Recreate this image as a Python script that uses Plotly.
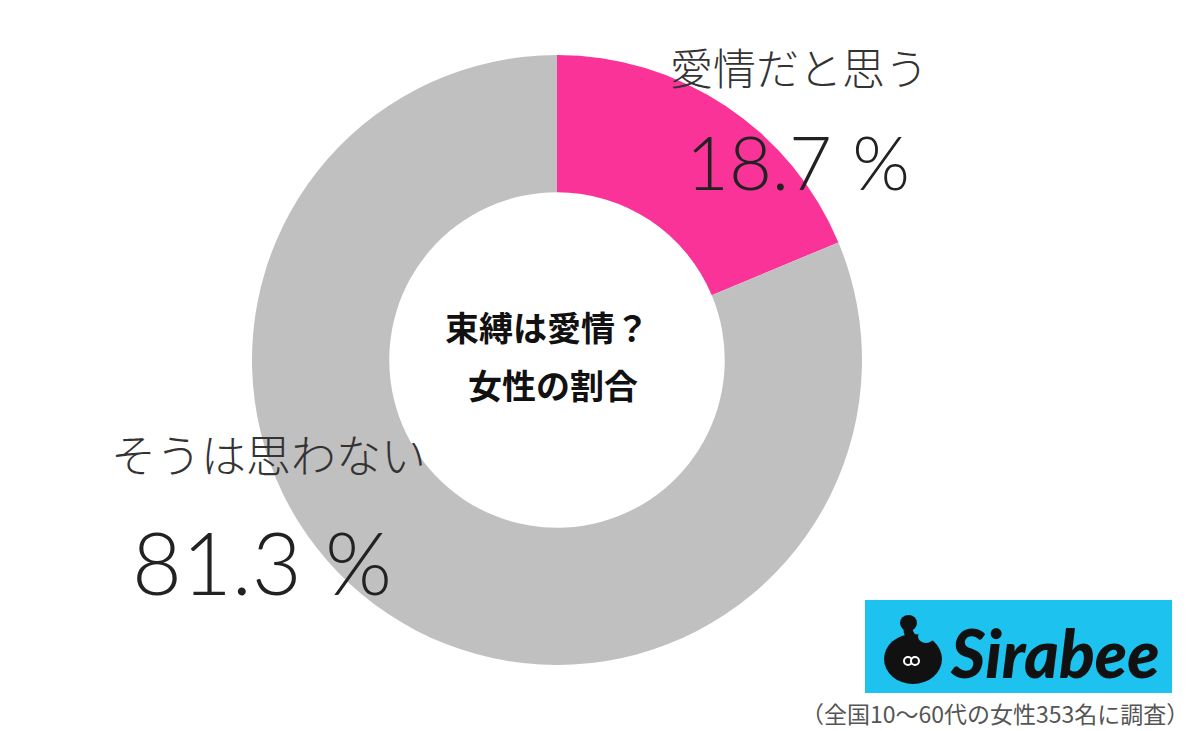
import plotly.graph_objects as go

W, H = 1200, 731
labels = ["愛情だと思う", "そうは思わない"]
values = [18.7, 81.3]
colors = ["#FA3399", "#C0C0C0"]
center_lines = ["束縛は愛情？", "女性の割合"]
footnote = "（全国10〜60代の女性353名に調査）"
brand = "Sirabee"

def px(x):
    return x / W

def py(y):
    return 1 - y / H

FONT = "Noto Sans CJK JP"
CYAN = "#1DC3EE"

fig = go.Figure(go.Pie(
    labels=labels,
    values=values,
    hole=0.55,
    sort=False,
    direction="clockwise",
    rotation=0,
    marker=dict(colors=colors, line=dict(width=0)),
    textinfo="none",
    hoverinfo="label+percent",
    showlegend=False,
    domain=dict(x=[px(252), px(862)], y=[py(665), py(55)]),
))

annos = []
# slice labels
annos.append(dict(x=px(799), y=py(66), text=labels[0],
                  font=dict(size=43, color="#333333", family=FONT, weight=300)))
annos.append(dict(x=px(798), y=py(162), text=f"{values[0]} %",
                  font=dict(size=74, color="#222222", family="Lato", weight=300)))
annos.append(dict(x=px(268), y=py(453), text=labels[1],
                  font=dict(size=45, color="#333333", family=FONT, weight=300)))
annos.append(dict(x=px(262), y=py(561), text=f"{values[1]} %",
                  font=dict(size=86, color="#222222", family="Lato", weight=300)))
# center text
annos.append(dict(x=px(547), y=py(326), text=f"<b>{center_lines[0]}</b>",
                  font=dict(size=34, color="#111111", family=FONT)))
annos.append(dict(x=px(553), y=py(384), text=f"<b>{center_lines[1]}</b>",
                  font=dict(size=34, color="#111111", family=FONT)))
# footnote
annos.append(dict(x=px(995), y=py(713), text=footnote,
                  font=dict(size=23, color="#555555", family=FONT)))
# brand text
annos.append(dict(x=px(1055), y=py(652), text=f"<i>{brand}</i>",
                  font=dict(size=66, color="#111111", family="Lato", weight=900)))

for a in annos:
    a.update(xref="paper", yref="paper", showarrow=False, xanchor="center", yanchor="middle")

shapes = [
    dict(type="rect", xref="paper", yref="paper", x0=px(865), x1=px(1172), y0=py(693), y1=py(600),
         fillcolor=CYAN, line=dict(width=0), layer="below"),
    # icon body
    dict(type="circle", xref="paper", yref="paper", x0=px(884), x1=px(942), y0=py(684), y1=py(634),
         fillcolor="#111111", line=dict(width=0)),
    # neck
    dict(type="path", xref="paper", yref="paper",
         path=f"M {px(908)} {py(624)} Q {px(906)} {py(640)} {px(925)} {py(645)}",
         line=dict(color="#111111", width=9)),
    # notch in body
    dict(type="circle", xref="paper", yref="paper", x0=px(918), x1=px(934), y0=py(643), y1=py(630),
         fillcolor=CYAN, line=dict(width=0)),
    # head
    dict(type="circle", xref="paper", yref="paper", x0=px(900), x1=px(917), y0=py(631), y1=py(615),
         fillcolor="#111111", line=dict(width=0)),
    # eyes
    dict(type="circle", xref="paper", yref="paper", x0=px(904), x1=px(912), y0=py(665), y1=py(657),
         fillcolor="#111111", line=dict(color="white", width=2)),
    dict(type="circle", xref="paper", yref="paper", x0=px(911), x1=px(919), y0=py(665), y1=py(657),
         fillcolor="#111111", line=dict(color="white", width=2)),
]

fig.update_layout(
    width=W, height=H,
    margin=dict(l=0, r=0, t=0, b=0),
    paper_bgcolor="white", plot_bgcolor="white",
    annotations=annos, shapes=shapes,
    font=dict(family=FONT),
)

fig.write_html("out.html")
